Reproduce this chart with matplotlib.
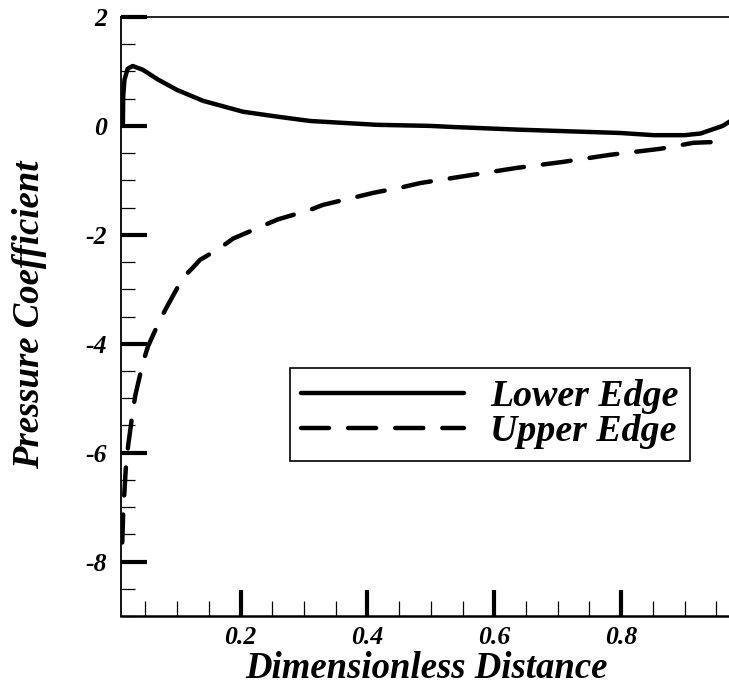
import matplotlib
matplotlib.use("Agg")
import matplotlib.pyplot as plt
from matplotlib.ticker import MultipleLocator, FixedLocator

# Surface pressure distribution along the two edges
x_lower = [0.0145, 0.015, 0.017, 0.022, 0.030, 0.046, 0.070, 0.100, 0.141,
           0.204, 0.258, 0.310, 0.415, 0.499, 0.535, 0.641, 0.799, 0.851,
           0.900, 0.925, 0.945, 0.960, 0.971]
cp_lower = [0.05, 0.55, 0.85, 1.05, 1.10, 1.03, 0.85, 0.66, 0.46,
            0.26, 0.17, 0.09, 0.02, 0.0, -0.02, -0.07, -0.13, -0.17,
            -0.17, -0.14, -0.06, 0.0, 0.08]

x_upper = [0.0135, 0.015, 0.017, 0.019, 0.023, 0.030, 0.034, 0.046, 0.054,
           0.073, 0.084, 0.109, 0.125, 0.136, 0.168, 0.188, 0.236, 0.258,
           0.310, 0.330, 0.384, 0.409, 0.457, 0.483, 0.636, 0.709, 0.783,
           0.862, 0.914, 0.936, 0.970]
cp_upper = [-7.65, -7.10, -6.70, -6.30, -5.85, -5.25, -4.95, -4.35, -4.05,
            -3.56, -3.32, -2.79, -2.60, -2.46, -2.24, -2.07, -1.83, -1.72,
            -1.54, -1.45, -1.30, -1.23, -1.12, -1.05, -0.77, -0.66, -0.53,
            -0.42, -0.31, -0.30, -0.29]

x_ticks = [0.2, 0.4, 0.6, 0.8]
x_tick_labels = ["0.2", "0.4", "0.6", "0.8"]
y_ticks = [2, 0, -2, -4, -6, -8]
y_tick_labels = ["2", "0", "-2", "-4", "-6", "-8"]

plt.rcParams["font.family"] = "Liberation Serif"
plt.rcParams["font.weight"] = "bold"
plt.rcParams["font.style"] = "italic"

fig = plt.figure(figsize=(7.29, 6.93), dpi=100)
ax = fig.add_axes([121 / 729, 77 / 693, 608 / 729, 599 / 693])

lw = 3.2
ax.plot(x_lower, cp_lower, color="black", lw=lw, solid_capstyle="round",
        solid_joinstyle="round", label="Lower Edge")
ax.plot(x_upper, cp_upper, color="black", lw=lw, linestyle=(0, (6.3, 4.3)),
        dash_capstyle="round", dash_joinstyle="round", label="Upper Edge")

ax.set_xlim(0.0115, 0.970)
ax.set_ylim(-9, 2)

ax.xaxis.set_major_locator(FixedLocator(x_ticks))
ax.set_xticklabels(x_tick_labels)
ax.xaxis.set_minor_locator(MultipleLocator(0.05))
ax.yaxis.set_major_locator(FixedLocator(y_ticks))
ax.set_yticklabels(y_tick_labels)
ax.yaxis.set_minor_locator(MultipleLocator(0.5))

ax.tick_params(which="major", direction="in", length=19, width=3,
               labelsize=18.5, color="black")
ax.tick_params(axis="x", which="major", pad=7)
ax.tick_params(axis="y", which="major", pad=10)
ax.tick_params(axis="x", which="minor", direction="in", length=11, width=0.9)
ax.tick_params(axis="y", which="minor", direction="in", length=10, width=0.9)
ax.tick_params(top=False, right=False, which="both")

ax.spines["right"].set_visible(False)
ax.spines["left"].set_linewidth(1.3)
ax.spines["top"].set_linewidth(1.2)
ax.spines["bottom"].set_linewidth(1.8)

fig.text(426 / 729, 1 - 668 / 693, "Dimensionless Distance", fontsize=26.5,
         ha="center", va="center")
fig.text(30 / 729, 1 - 315 / 693, "Pressure Coefficient", fontsize=26.5,
         ha="center", va="center", rotation=90)

leg = ax.legend(loc="upper left", bbox_to_anchor=(0.278, 0.414),
                borderaxespad=0, fontsize=27.3, handlelength=4.3,
                handletextpad=0.68, borderpad=0.3, labelspacing=0.0,
                fancybox=False, framealpha=1)
leg.get_frame().set_edgecolor("black")
leg.get_frame().set_linewidth(1.2)

fig.savefig("out.png", dpi=100)
